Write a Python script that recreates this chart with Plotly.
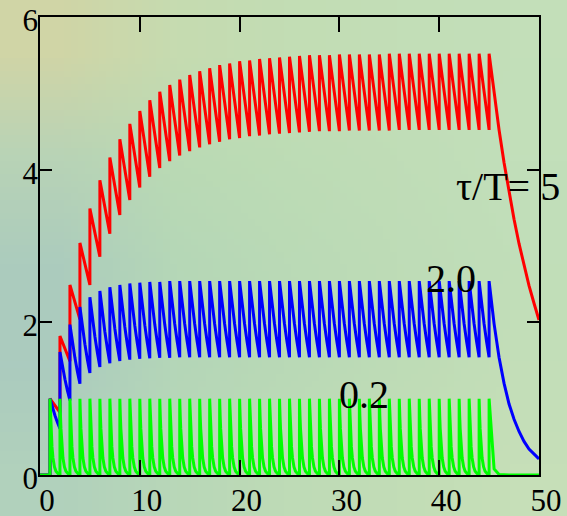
import base64
import struct
import zlib

import plotly.graph_objects as go

# ---------------------------------------------------------------------------
# Response of a first-order system to a train of unit impulses (period T = 1)
# Peak value reached right after each impulse k = 1 .. 45
# ---------------------------------------------------------------------------
pulse_times = list(range(1, 46))

red_peaks = [1.00, 1.82, 2.49, 3.04, 3.49, 3.86, 4.16, 4.40, 4.60, 4.77,
             4.91, 5.02, 5.11, 5.18, 5.24, 5.29, 5.33, 5.37, 5.39, 5.42,
             5.43, 5.45, 5.46, 5.47, 5.48, 5.49, 5.50, 5.50, 5.50, 5.51,
             5.51, 5.51, 5.51, 5.51, 5.52, 5.52, 5.52, 5.52, 5.52, 5.52,
             5.52, 5.52, 5.52, 5.52, 5.52]
blue_peaks = [1.00, 1.61, 1.97, 2.20, 2.33, 2.41, 2.46, 2.49, 2.51, 2.52,
              2.53, 2.53, 2.54, 2.54, 2.54, 2.54, 2.54, 2.54, 2.54, 2.54,
              2.54, 2.54, 2.54, 2.54, 2.54, 2.54, 2.54, 2.54, 2.54, 2.54,
              2.54, 2.54, 2.54, 2.54, 2.54, 2.54, 2.54, 2.54, 2.54, 2.54,
              2.54, 2.54, 2.54, 2.54, 2.54]
green_peaks = [1.00] * 45

# Shape of one period between impulses: fraction of the peak left at each offset
red_offsets = [0.0, 0.25, 0.5, 0.75, 1.0]
red_fraction = [1.0, 0.951, 0.905, 0.861, 0.819]
blue_offsets = [0.0, 0.25, 0.5, 0.75, 1.0]
blue_fraction = [1.0, 0.882, 0.779, 0.687, 0.607]
green_offsets = [0.0, 0.05, 0.1, 0.2, 0.3, 0.45, 0.6, 0.8, 1.0]
green_fraction = [1.0, 0.779, 0.607, 0.368, 0.223, 0.105, 0.050, 0.018, 0.007]

# Free decay after the last impulse (t = 45 .. 50)
tail_t = [45.0, 45.5, 46.0, 46.5, 47.0, 47.5, 48.0, 48.5, 49.0, 49.5, 50.0]
red_tail = [5.52, 4.99, 4.52, 4.09, 3.70, 3.35, 3.03, 2.74, 2.48, 2.25, 2.03]
blue_tail = [2.54, 1.98, 1.54, 1.20, 0.93, 0.73, 0.57, 0.44, 0.34, 0.27, 0.21]
green_tail = [1.00, 0.08, 0.007, 0.0, 0.0, 0.0, 0.0, 0.0, 0.0, 0.0, 0.0]

ratio_labels = ["\u03c4/T= 5", "2.0", "0.2"]
x_ticks = [0, 10, 20, 30, 40, 50]
y_ticks = [0, 2, 4, 6]
x_range = [0, 50]
y_range = [0, 6]

SERIF = "Liberation Serif"


def build_trace(peaks, offsets, fraction, tail_y):
    xs, ys = [0.0, pulse_times[0]], [0.0, 0.0]
    for t0, p in zip(pulse_times[:-1], peaks[:-1]):
        for o, f in zip(offsets, fraction):
            xs.append(t0 + o)
            ys.append(p * f)
    xs.extend(tail_t)
    ys.extend(tail_y)
    return xs, ys


def gradient_png(rows):
    """Tiny RGB PNG built from a grid of hex colours (stretched as backdrop)."""
    h, w = len(rows), len(rows[0])
    raw = b""
    for r in rows:
        raw += b"\x00" + b"".join(bytes.fromhex(c.lstrip("#")) for c in r)

    def chunk(tag, data):
        c = struct.pack(">I", len(data)) + tag + data
        return c + struct.pack(">I", zlib.crc32(tag + data) & 0xFFFFFFFF)

    png = b"\x89PNG\r\n\x1a\n"
    png += chunk(b"IHDR", struct.pack(">IIBBBBB", w, h, 8, 2, 0, 0, 0))
    png += chunk(b"IDAT", zlib.compress(raw))
    png += chunk(b"IEND", b"")
    return "data:image/png;base64," + base64.b64encode(png).decode()


backdrop = gradient_png([
    ["#d0d5a6", "#c6dbb0", "#c2ddb4", "#c2deb7", "#c3dfb9"],
    ["#b8d3b6", "#badab4", "#bddcb5", "#c0ddb7", "#c2dfba"],
    ["#acccbd", "#b5d7b7", "#badab6", "#bedcb7", "#c1deb9"],
    ["#abcbbf", "#b4d6b8", "#b9d9b6", "#bedcb6", "#c3deb8"],
    ["#b1d1bc", "#b8d7b8", "#bedbb6", "#c2ddb6", "#c6dfb8"],
])

fig = go.Figure()
series = [
    (red_peaks, red_offsets, red_fraction, red_tail, "#ff0000"),
    (blue_peaks, blue_offsets, blue_fraction, blue_tail, "#0000ff"),
    (green_peaks, green_offsets, green_fraction, green_tail, "#00ff00"),
]
for peaks, offs, frac, tail, color in series:
    xs, ys = build_trace(peaks, offs, frac, tail)
    fig.add_trace(go.Scatter(x=xs, y=ys, mode="lines",
                             line=dict(color=color, width=3),
                             hoverinfo="skip", showlegend=False))

label_font = dict(family=SERIF, size=40, color="black")
fig.add_annotation(x=41.5, y=3.78, text=ratio_labels[0], xref="x", yref="y",
                   xanchor="left", yanchor="middle", showarrow=False,
                   font=label_font)
fig.add_annotation(x=38.5, y=2.58, text=ratio_labels[1], xref="x", yref="y",
                   xanchor="left", yanchor="middle", showarrow=False,
                   font=label_font)
fig.add_annotation(x=29.8, y=1.06, text=ratio_labels[2], xref="x", yref="y",
                   xanchor="left", yanchor="middle", showarrow=False,
                   font=label_font)

L, R, T, B = 40, 28, 17, 41
W, H = 567, 516
pw, ph = W - L - R, H - T - B
fig.add_layout_image(dict(source=backdrop, xref="paper", yref="paper",
                          x=-L / pw, y=1 + T / ph, sizex=W / pw, sizey=H / ph,
                          xanchor="left", yanchor="top", sizing="stretch",
                          layer="below"))

tick_font = dict(family=SERIF, size=31, color="black")

fig.update_layout(
    # Frame with inward ticks on all four sides
    xaxis=dict(range=x_range, tickvals=x_ticks, ticks="inside", ticklen=15,
               tickwidth=2, tickcolor="black", mirror="allticks",
               showline=True, linecolor="black", linewidth=2,
               showgrid=False, zeroline=False, showticklabels=False,
               automargin=False),
    yaxis=dict(range=y_range, tickvals=y_ticks, ticks="inside", ticklen=12,
               tickwidth=2, tickcolor="black", mirror="allticks",
               showline=True, linecolor="black", linewidth=2,
               showgrid=False, zeroline=False, showticklabels=False,
               automargin=False),
    # Overlaid axes that only carry the tick labels
    xaxis2=dict(range=x_range, tickvals=x_ticks,
                ticktext=[str(v) for v in x_ticks], side="bottom",
                overlaying="x", anchor="y", ticks="", showline=False,
                showgrid=False, zeroline=False, tickfont=tick_font,
                ticklabelshift=7, ticklabelstandoff=4,
                ticklabeloverflow="allow", automargin=False),
    yaxis2=dict(range=y_range, tickvals=y_ticks,
                ticktext=[str(v) for v in y_ticks], side="left",
                overlaying="y", anchor="x", ticks="", showline=False,
                showgrid=False, zeroline=False, tickfont=tick_font,
                ticklabelshift=3, ticklabelstandoff=1,
                ticklabeloverflow="allow", automargin=False),
)
# Empty trace bound to the label axes so they get drawn
fig.add_trace(go.Scatter(x=[None], y=[None], xaxis="x2", yaxis="y2",
                         mode="lines", showlegend=False, hoverinfo="skip"))

fig.update_layout(width=W, height=H,
                  margin=dict(l=L, r=R, t=T, b=B, autoexpand=False),
                  font=dict(family=SERIF, color="black"),
                  paper_bgcolor="#bcd9b6", plot_bgcolor="rgba(0,0,0,0)")

fig.write_html("out.html")
